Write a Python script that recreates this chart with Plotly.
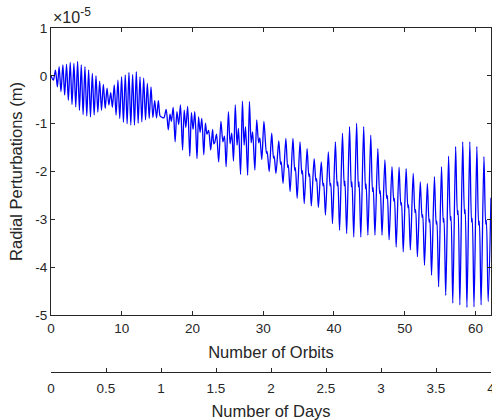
import plotly.graph_objects as go

# ---- data (orbit number, radial perturbation in 1e-5 m) ----
# extrema of the curve, early part (dominant twice-per-orbit oscillation)
early_pts = [
    (0.00, 0.00), (0.33, -0.09), (0.63, 0.12), (0.90, -0.23), (1.15, 0.19), (1.41, -0.33),
    (1.68, 0.23), (1.93, -0.40), (2.20, 0.24), (2.45, -0.51), (2.72, 0.28), (2.97, -0.60),
    (3.24, 0.26), (3.50, -0.65), (3.76, 0.30), (4.02, -0.72), (4.28, 0.23), (4.54, -0.81),
    (4.80, 0.19), (5.06, -0.84), (5.32, 0.12), (5.58, -0.86), (5.84, 0.05), (6.10, -0.82),
    (6.36, 0.00), (6.62, -0.76), (6.88, -0.11), (7.14, -0.72), (7.40, -0.18), (7.66, -0.68),
    (7.92, -0.26), (8.18, -0.61), (8.44, -0.35), (8.68, -0.66), (8.94, -0.19), (9.20, -0.82),
    (9.46, -0.09), (9.72, -0.89), (9.98, -0.02), (10.24, -0.97), (10.50, 0.02), (10.76, -1.00),
    (11.02, 0.07), (11.28, -1.03), (11.54, 0.03), (11.80, -1.03), (12.06, 0.09), (12.32, -0.99),
    (12.58, -0.02), (12.84, -0.96), (13.10, -0.05), (13.36, -0.92), (13.62, -0.16), (13.88, -0.89),
    (14.14, -0.23), (14.40, -0.87), (14.66, -0.52), (14.92, -0.88), (15.18, -0.52), (15.42, -0.84),
    (15.62, -0.86), (15.95, -0.88),
]

# middle part (mixed once- and twice-per-orbit oscillation)
mid_pts = [
    (16.28, -0.70), (16.58, -1.13), (16.82, -0.80), (17.02, -0.95), (17.27, -0.66), (17.55, -1.38),
    (17.80, -0.75), (18.05, -1.02), (18.30, -0.61), (18.60, -1.55), (18.83, -0.72), (19.06, -1.08),
    (19.32, -0.64), (19.62, -1.68), (19.85, -0.77), (20.08, -1.12), (20.33, -0.75), (20.64, -1.73),
    (20.86, -0.86), (21.08, -1.18), (21.32, -0.89), (21.60, -1.65), (21.83, -0.99), (22.05, -1.22),
    (22.28, -1.14), (22.58, -1.55), (22.84, -1.12), (23.02, -1.42), (23.14, -1.40), (23.40, -1.22),
    (23.70, -1.80), (24.02, -0.95), (24.30, -1.38), (24.52, -1.26), (24.76, -1.90), (25.08, -0.75),
    (25.32, -1.42), (25.55, -1.20), (25.80, -1.78), (26.05, -0.61), (26.30, -1.45), (26.50, -1.10),
    (26.80, -2.06), (27.06, -0.53), (27.30, -1.45), (27.50, -1.06), (27.80, -2.08), (28.05, -0.54),
    (28.30, -1.40), (28.50, -1.17), (28.82, -1.97), (29.08, -0.92), (29.35, -1.40), (29.52, -1.30),
    (29.80, -1.75), (30.10, -0.95), (30.45, -1.62), (30.55, -1.58), (30.85, -2.00),
]

# late part: one row per orbit -> (orbit, peak, shoulder low, shoulder high, trough)
late_rows = [
    (31, -1.20, -1.72, -1.68, -2.04), (32, -1.36, -1.85, -1.80, -2.25),
    (33, -1.31, -1.92, -1.86, -2.42), (34, -1.31, -1.98, -1.92, -2.56),
    (35, -1.38, -2.05, -1.98, -2.67), (36, -1.52, -2.10, -2.05, -2.72),
    (37, -1.73, -2.20, -2.15, -2.75), (38, -1.80, -2.30, -2.25, -2.91),
    (39, -1.59, -2.30, -2.25, -3.09), (40, -1.38, -2.30, -2.22, -3.23),
    (41, -1.20, -2.30, -2.20, -3.30), (42, -1.06, -2.32, -2.22, -3.37),
    (43, -0.99, -2.32, -2.22, -3.37), (44, -1.06, -2.36, -2.26, -3.33),
    (45, -1.24, -2.42, -2.34, -3.33), (46, -1.52, -2.46, -2.40, -3.33),
    (47, -1.76, -2.56, -2.50, -3.43), (48, -1.90, -2.62, -2.56, -3.58),
    (49, -1.91, -2.70, -2.65, -3.68), (50, -1.94, -2.76, -2.70, -3.64),
    (51, -2.04, -2.86, -2.80, -3.78), (52, -2.22, -2.96, -2.90, -3.96),
    (53, -2.25, -3.06, -3.00, -4.17), (54, -2.11, -3.10, -3.04, -4.41),
    (55, -1.90, -3.06, -2.98, -4.59), (56, -1.68, -3.02, -2.94, -4.75),
    (57, -1.48, -2.90, -2.82, -4.79), (58, -1.38, -2.88, -2.80, -4.84),
    (59, -1.38, -3.06, -2.98, -4.83), (60, -1.48, -3.12, -3.04, -4.79),
    (61, -1.69, -3.10, -3.02, -4.72),
]
late_phase = [0.20, 0.45, 0.55, 0.80]   # position of the four extrema inside an orbit
end_pt = (62.2, -2.55)

orbit_ticks = [0, 10, 20, 30, 40, 50, 60]
radial_ticks = [1, 0, -1, -2, -3, -4, -5]
radial_labels = ["1", "0", "-1", "-2", "-3", "-4", "-5"]
day_ticks = [0, 0.5, 1, 1.5, 2, 2.5, 3, 3.5, 4]
day_labels = ["0", "0.5", "1", "1.5", "2", "2.5", "3", "3.5", "4"]
orbit_max = 62.2
day_max = 4

# ---- assemble ----
orbit = [p[0] for p in early_pts + mid_pts]
radial = [p[1] for p in early_pts + mid_pts]
for row in late_rows:
    k = row[0]
    for ph, v in zip(late_phase, row[1:]):
        orbit.append(k + ph)
        radial.append(v)
orbit.append(end_pt[0])
radial.append(end_pt[1])

AX = "#262626"
FONT = "Liberation Sans, Arial, Helvetica, sans-serif"

fig = go.Figure()
fig.add_trace(go.Scatter(
    x=orbit, y=radial, mode="lines",
    line=dict(color="#0000FF", width=1.3, shape="spline", smoothing=0.8),
    showlegend=False, hoverinfo="skip",
))
# carrier for the secondary (days) axis
fig.add_trace(go.Scatter(x=[0, day_max], y=[None, None], xaxis="x2", yaxis="y",
                         mode="lines", showlegend=False, hoverinfo="skip"))

H_PAPER = 420 - 28 - 48
fig.update_layout(
    width=492, height=420,
    margin=dict(l=51, r=1, t=28, b=48, pad=0),
    paper_bgcolor="white", plot_bgcolor="white",
    font=dict(family=FONT, size=13.5, color=AX),
    xaxis=dict(
        range=[0, orbit_max], tickvals=orbit_ticks, ticks="inside", ticklen=4,
        tickcolor=AX, showline=True, linecolor=AX, linewidth=1, mirror="ticks",
        showgrid=False, zeroline=False, anchor="y", ticklabelstandoff=1,
        title=dict(text="Number of Orbits", font=dict(size=16.5), standoff=11),
        automargin=False,
    ),
    yaxis=dict(
        domain=[(372 - 315) / H_PAPER, 1], range=[-5, 1],
        tickvals=radial_ticks, ticktext=radial_labels, ticks="inside", ticklen=4,
        tickcolor=AX, showline=True, linecolor=AX, linewidth=1, mirror="ticks",
        showgrid=False, zeroline=False,
        title=dict(text="Radial Perturbations (m)", font=dict(size=16.5), standoff=8),
        automargin=False,
    ),
    xaxis2=dict(
        overlaying="x", anchor="free", position=0, side="bottom",
        range=[0, day_max], tickvals=day_ticks, ticktext=day_labels,
        ticks="inside", ticklen=4, tickcolor=AX, showline=True, linecolor=AX,
        linewidth=1, showgrid=False, zeroline=False, ticklabelstandoff=4,
        ticklabeloverflow="allow",
        title=dict(text="Number of Days", font=dict(size=16.5), standoff=10),
        automargin=False,
    ),
    annotations=[dict(
        text="×10<sup><span style='font-size:12px'>-5</span></sup>",
        xref="paper", yref="paper", x=0, y=1,
        xanchor="left", yanchor="bottom", showarrow=False, yshift=0,
        font=dict(size=16, color=AX, family=FONT),
    )],
)

fig.write_html("out.html")
